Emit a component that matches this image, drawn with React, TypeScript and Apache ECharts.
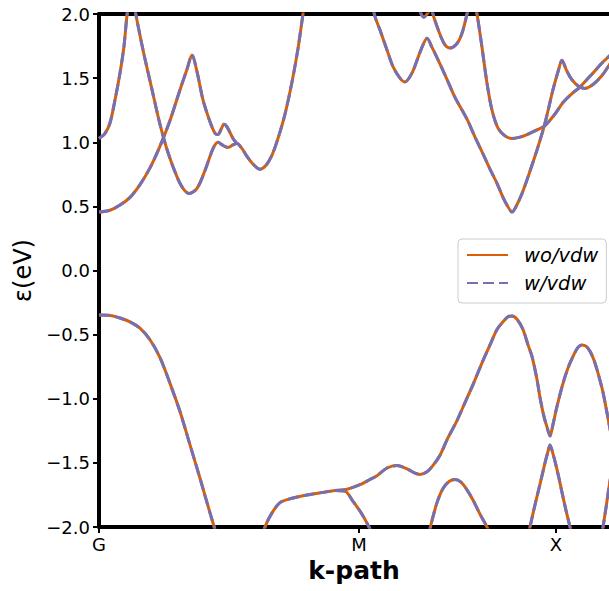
import React, { useEffect, useRef } from 'react';
import * as echarts from 'echarts';

// k-path positions of high-symmetry points and their labels
const kTicks = [0, 2.6, 4.57];
const kLabels = ['G', 'M', 'X'];
const kMax = 5.1;

// energy axis
const eMin = -2;
const eMax = 2;
const eStep = 0.5;

// series names
const seriesNames = ['wo/vdw', 'w/vdw'];

// bands: [k, energy (eV)]
const bandA: number[][] = [
  [0.0, 1.03], [0.06, 1.07], [0.11, 1.15], [0.16, 1.33], [0.21, 1.54], [0.25, 1.75], [0.28, 1.99], [0.32, 2.2],
  [0.37, 1.99], [0.44, 1.72], [0.53, 1.41], [0.61, 1.14], [0.69, 0.92], [0.78, 0.73], [0.84, 0.64], [0.9, 0.6],
  [0.98, 0.64], [1.06, 0.78], [1.14, 0.95], [1.19, 1.0], [1.24, 0.975], [1.29, 0.96], [1.34, 0.98], [1.38, 0.99],
  [1.43, 0.95], [1.48, 0.89], [1.54, 0.83], [1.61, 0.79], [1.67, 0.82], [1.73, 0.9], [1.79, 1.03], [1.86, 1.22],
  [1.93, 1.47], [1.99, 1.73], [2.04, 2.0], [2.08, 2.2],
];
const bandB: number[][] = [
  [0.0, 0.456], [0.11, 0.47], [0.21, 0.51], [0.31, 0.57], [0.41, 0.67], [0.51, 0.8], [0.61, 0.97], [0.71, 1.17],
  [0.81, 1.41], [0.88, 1.57], [0.93, 1.68], [0.98, 1.55], [1.04, 1.33], [1.11, 1.16], [1.16, 1.07], [1.19, 1.06],
  [1.22, 1.1], [1.25, 1.14], [1.28, 1.12], [1.34, 1.03], [1.38, 0.99],
];
const bandC: number[][] = [
  [2.71, 2.15], [2.76, 1.98], [2.81, 1.875], [2.88, 1.72], [2.94, 1.59], [3.01, 1.5], [3.06, 1.47], [3.13, 1.54],
  [3.19, 1.66], [3.24, 1.76], [3.28, 1.81], [3.33, 1.74], [3.38, 1.66], [3.48, 1.49], [3.56, 1.35], [3.68, 1.18],
  [3.76, 1.04], [3.84, 0.91], [3.91, 0.79], [3.98, 0.68], [4.04, 0.57], [4.08, 0.51], [4.13, 0.456], [4.19, 0.53],
  [4.24, 0.62], [4.29, 0.73], [4.38, 0.94], [4.46, 1.15], [4.54, 1.41], [4.59, 1.55], [4.63, 1.64], [4.67, 1.57],
  [4.71, 1.51], [4.76, 1.46], [4.81, 1.43], [4.86, 1.42], [4.94, 1.45], [5.03, 1.52], [5.1, 1.6], [5.16, 1.68],
];
const bandD: number[][] = [
  [3.73, 2.2], [3.78, 2.0], [3.83, 1.74], [3.88, 1.46], [3.93, 1.25], [3.99, 1.11], [4.06, 1.05], [4.13, 1.03],
  [4.21, 1.04], [4.28, 1.06], [4.39, 1.1], [4.46, 1.13], [4.56, 1.22], [4.64, 1.31], [4.73, 1.38], [4.81, 1.43],
  [4.88, 1.49], [4.94, 1.54], [5.02, 1.61], [5.1, 1.67], [5.16, 1.71],
];
const bandE: number[][] = [
  [3.16, 2.15], [3.21, 2.02], [3.25, 1.975], [3.29, 2.01], [3.32, 2.04], [3.35, 1.97], [3.41, 1.84], [3.46, 1.76],
  [3.51, 1.735], [3.58, 1.77], [3.63, 1.85], [3.68, 2.0], [3.72, 2.15],
];
const bandV1: number[][] = [
  [0.0, -0.347], [0.11, -0.35], [0.21, -0.37], [0.31, -0.4], [0.41, -0.45], [0.51, -0.54], [0.61, -0.68],
  [0.71, -0.88], [0.81, -1.1], [0.91, -1.36], [1.01, -1.62], [1.11, -1.89], [1.16, -2.02], [1.21, -2.15],
];
const bandV2: number[][] = [
  [1.59, -2.2], [1.66, -2.0], [1.73, -1.89], [1.81, -1.81], [1.91, -1.78], [2.08, -1.75], [2.24, -1.73],
  [2.36, -1.715], [2.46, -1.71], [2.61, -1.67], [2.71, -1.63], [2.78, -1.6], [2.88, -1.54], [2.98, -1.52],
  [3.09, -1.55], [3.16, -1.58], [3.21, -1.59], [3.28, -1.57], [3.34, -1.52], [3.41, -1.44], [3.48, -1.32],
  [3.58, -1.17], [3.66, -1.03], [3.74, -0.89], [3.83, -0.72], [3.91, -0.58], [3.98, -0.46], [4.04, -0.4],
  [4.09, -0.36], [4.13, -0.355], [4.18, -0.38], [4.24, -0.46], [4.29, -0.58], [4.33, -0.67], [4.38, -0.85],
  [4.41, -0.99], [4.45, -1.14], [4.48, -1.22], [4.51, -1.29], [4.54, -1.2], [4.58, -1.06], [4.64, -0.88],
  [4.69, -0.76], [4.74, -0.67], [4.79, -0.6], [4.83, -0.58], [4.87, -0.59], [4.91, -0.63], [4.95, -0.7],
  [4.99, -0.8], [5.04, -0.95], [5.08, -1.11], [5.13, -1.32],
];
const bandV3: number[][] = [
  [2.36, -1.715], [2.46, -1.72], [2.54, -1.8], [2.63, -1.9], [2.7, -2.0], [2.76, -2.1],
];
const bandV4: number[][] = [
  [3.29, -2.08], [3.33, -1.95], [3.38, -1.81], [3.44, -1.7], [3.5, -1.645], [3.56, -1.63], [3.62, -1.65],
  [3.68, -1.71], [3.74, -1.79], [3.81, -1.9], [3.88, -2.0], [3.91, -2.05],
];
const bandV5: number[][] = [
  [4.28, -2.12], [4.31, -2.0], [4.35, -1.86], [4.39, -1.73], [4.43, -1.6], [4.46, -1.5], [4.49, -1.41],
  [4.51, -1.36], [4.54, -1.43], [4.57, -1.52], [4.6, -1.62], [4.63, -1.73], [4.67, -1.87], [4.71, -2.0], [4.74, -2.1],
];
const bandV6: number[][] = [
  [5.01, -2.15], [5.04, -2.0], [5.07, -1.85], [5.1, -1.69], [5.13, -1.55],
];

const bands = [bandA, bandB, bandC, bandD, bandE, bandV1, bandV2, bandV3, bandV4, bandV5, bandV6];

const FONT = 'DejaVu Sans';
const ORANGE = '#d95f02';
const PURPLE = '#7570b3';

export default function App() {
  const ref = useRef<HTMLDivElement>(null);
  useEffect(() => {
    const chart = echarts.init(ref.current!, null, { renderer: 'svg' });
    const series: any[] = [];
    bands.forEach((b) =>
      series.push({
        type: 'line', name: seriesNames[0], data: b, symbol: 'none', showSymbol: false, smooth: 0.3,
        lineStyle: { color: ORANGE, width: 3 }, itemStyle: { color: ORANGE }, z: 2, silent: true, clip: true,
      })
    );
    bands.forEach((b) =>
      series.push({
        type: 'line', name: seriesNames[1], data: b, symbol: 'none', showSymbol: false, smooth: 0.3,
        lineStyle: { color: PURPLE, width: 3, type: [11, 5] }, itemStyle: { color: PURPLE }, z: 3, silent: true, clip: true,
      })
    );
    chart.setOption({
      animation: false,
      backgroundColor: '#ffffff',
      textStyle: { fontFamily: FONT },
      grid: { left: 99, top: 14, right: 0, bottom: 64, containLabel: false, outerBoundsMode: 'none' },
      legend: {
        data: seriesNames,
        orient: 'vertical',
        left: 458,
        top: 239,
        padding: [5, 8, 9, 8],
        itemWidth: 41,
        itemHeight: 14,
        itemGap: 6,
        selectedMode: false,
        itemStyle: { opacity: 0 },
        backgroundColor: 'rgba(255,255,255,0.8)',
        borderColor: '#cccccc',
        borderWidth: 1,
        borderRadius: 4,
        textStyle: { fontFamily: FONT, fontSize: 19.5, fontStyle: 'italic', color: '#000', lineHeight: 22, padding: [0, 0, 0, 11] },
      },
      xAxis: [
        {
          type: 'value', min: 0, max: kMax, position: 'bottom',
          axisLine: { onZero: false, lineStyle: { color: '#000', width: 4 } },
          axisTick: { customValues: kTicks, length: 6, lineStyle: { color: '#000', width: 2 } },
          axisLabel: {
            customValues: kTicks, margin: 8, fontSize: 18, color: '#000', fontFamily: FONT,
            formatter: (v: number) => {
              const i = kTicks.findIndex((t) => Math.abs(t - v) < 1e-6);
              return i >= 0 ? kLabels[i] : '';
            },
          },
          splitLine: { show: false },
          name: 'k-path', nameLocation: 'middle', nameGap: 27,
          nameTextStyle: { fontSize: 25, fontWeight: 'bold', color: '#000', fontFamily: FONT },
        },
        {
          type: 'value', min: 0, max: kMax, position: 'top',
          axisLine: { onZero: false, lineStyle: { color: '#000', width: 4 } },
          axisTick: { show: false }, axisLabel: { show: false }, splitLine: { show: false },
        },
      ],
      yAxis: {
        type: 'value', min: eMin, max: eMax, interval: eStep,
        axisLine: { show: true, onZero: false, lineStyle: { color: '#000', width: 4 } },
        axisTick: { length: 6, lineStyle: { color: '#000', width: 2 } },
        axisLabel: {
          margin: 9, fontSize: 18, color: '#000', fontFamily: FONT,
          formatter: (v: number) => v.toFixed(1).replace('-', '\u2212'),
        },
        splitLine: { show: false },
        name: '\u03b5(eV)', nameLocation: 'middle', nameGap: 60,
        nameTextStyle: { fontSize: 24, color: '#000', fontFamily: FONT },
      },
      series,
    });
    return () => chart.dispose();
  }, []);
  return <div ref={ref} style={{ position: 'fixed', left: 0, top: 0, width: 609, height: 591 }} />;
}
